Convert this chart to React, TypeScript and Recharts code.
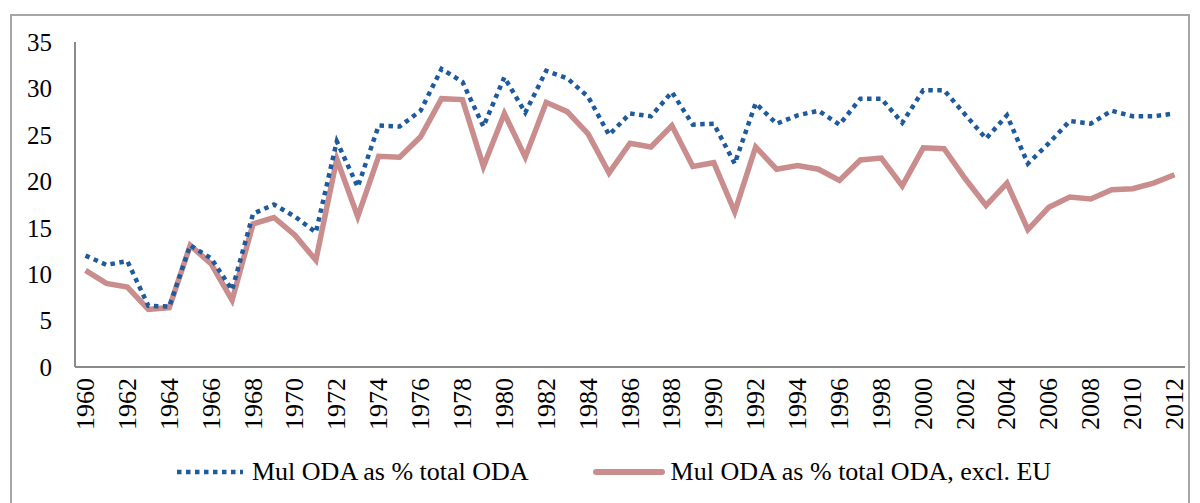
import { LineChart, Line, XAxis, YAxis, Legend } from 'recharts'

const YEARS = [
  1960, 1961, 1962, 1963, 1964, 1965, 1966, 1967, 1968, 1969,
  1970, 1971, 1972, 1973, 1974, 1975, 1976, 1977, 1978, 1979,
  1980, 1981, 1982, 1983, 1984, 1985, 1986, 1987, 1988, 1989,
  1990, 1991, 1992, 1993, 1994, 1995, 1996, 1997, 1998, 1999,
  2000, 2001, 2002, 2003, 2004, 2005, 2006, 2007, 2008, 2009,
  2010, 2011, 2012,
]

// Mul ODA as % total ODA
const TOTAL = [
  12.0, 11.0, 11.4, 6.6, 6.5, 13.1, 11.7, 8.3, 16.5, 17.5,
  16.2, 14.5, 24.3, 19.4, 26.0, 25.9, 27.6, 32.1, 30.7, 25.9,
  31.2, 27.4, 31.9, 31.1, 29.1, 25.0, 27.3, 27.0, 29.6, 26.1,
  26.2, 21.9, 28.4, 26.2, 27.1, 27.6, 26.1, 28.9, 28.9, 26.3,
  29.8, 29.8, 27.2, 24.6, 27.1, 21.9, 24.1, 26.5, 26.2, 27.6,
  27.0, 27.0, 27.3,
]

// Mul ODA as % total ODA, excl. EU
const EXCL_EU = [
  10.4, 9.0, 8.6, 6.2, 6.4, 13.1, 11.1, 7.2, 15.4, 16.1,
  14.2, 11.5, 22.4, 16.2, 22.7, 22.6, 24.8, 28.9, 28.8, 21.6,
  27.3, 22.6, 28.5, 27.5, 25.1, 20.9, 24.1, 23.7, 26.0, 21.6,
  22.0, 16.7, 23.7, 21.3, 21.7, 21.3, 20.1, 22.3, 22.5, 19.5,
  23.6, 23.5, 20.3, 17.4, 19.8, 14.8, 17.2, 18.3, 18.1, 19.1,
  19.2, 19.8, 20.7,
]

const Y_TICKS = [0, 5, 10, 15, 20, 25, 30, 35]

const BLUE = '#1F5A9C'
const ROSE = '#C88D8C'
const AXIS = '#8A8A8A'
const FONT = '"Liberation Serif", "DejaVu Serif", serif'

const data = YEARS.map((y, i) => ({ year: y, total: TOTAL[i], exclEu: EXCL_EU[i] }))

function YearTick({ x, y, payload }: any) {
  return (
    <g transform={`translate(${x},${y})`}>
      <text
        transform="rotate(-90)"
        textAnchor="end"
        dominantBaseline="central"
        style={{ fontSize: 26, fontFamily: FONT }}
        fill="#000"
      >
        {payload.value}
      </text>
    </g>
  )
}

function ChartLegend() {
  const text = { fontSize: 26, fontFamily: FONT, color: '#000', whiteSpace: 'nowrap' as const }
  return (
    <div style={{ display: 'flex', alignItems: 'center', paddingLeft: 177, height: 30 }}>
      <svg width={66} height={10}>
        <line x1={0} y1={5} x2={66} y2={5} stroke={BLUE} strokeWidth={4.5} strokeDasharray="4.5 4.5" />
      </svg>
      <span style={{ ...text, marginLeft: 9 }}>Mul ODA as % total ODA</span>
      <svg width={72} height={10} style={{ marginLeft: 64 }}>
        <line x1={3} y1={5} x2={69} y2={5} stroke={ROSE} strokeWidth={6} strokeLinecap="round" />
      </svg>
      <span style={{ ...text, marginLeft: 6 }}>Mul ODA as % total ODA, excl. EU</span>
    </div>
  )
}

export default function App() {
  return (
    <div style={{ position: 'absolute', left: 0, top: 0, width: 1200, height: 503, overflow: 'hidden', background: '#fff', fontFamily: FONT }}>
      <div
        style={{
          position: 'absolute', left: 10, top: 14, width: 1180, height: 540,
          border: '2px solid #A6A6A6', boxSizing: 'border-box',
        }}
      />
      <LineChart width={1200} height={503} data={data} margin={{ top: 42, right: 15, left: 0, bottom: 0 }}>
        <XAxis
          dataKey="year"
          interval={1}
          height={136}
          padding={{ left: 10.5, right: 10.5 }}
          tickSize={0}
          tickMargin={11}
          tick={<YearTick />}
          axisLine={{ stroke: AXIS, strokeWidth: 2 }}
          tickLine={false}
        />
        <YAxis
          width={75}
          domain={[0, 35]}
          ticks={Y_TICKS}
          tickSize={0}
          tickMargin={23}
          tick={{ fontSize: 25, fontFamily: FONT, fill: '#000' }}
          axisLine={{ stroke: AXIS, strokeWidth: 2 }}
          tickLine={false}
        />
        <Legend
          layout="horizontal"
          verticalAlign="middle"
          align="center"
          wrapperStyle={{ top: 457, left: 0, width: 1200 }}
          content={() => <ChartLegend />}
        />
        <Line
          dataKey="exclEu"
          name="Mul ODA as % total ODA, excl. EU"
          stroke={ROSE}
          strokeWidth={5.5}
          dot={false}
          activeDot={false}
          isAnimationActive={false}
        />
        <Line
          dataKey="total"
          name="Mul ODA as % total ODA"
          stroke={BLUE}
          strokeWidth={4.5}
          strokeDasharray="4.5 4.5"
          dot={false}
          activeDot={false}
          isAnimationActive={false}
        />
      </LineChart>
    </div>
  )
}
